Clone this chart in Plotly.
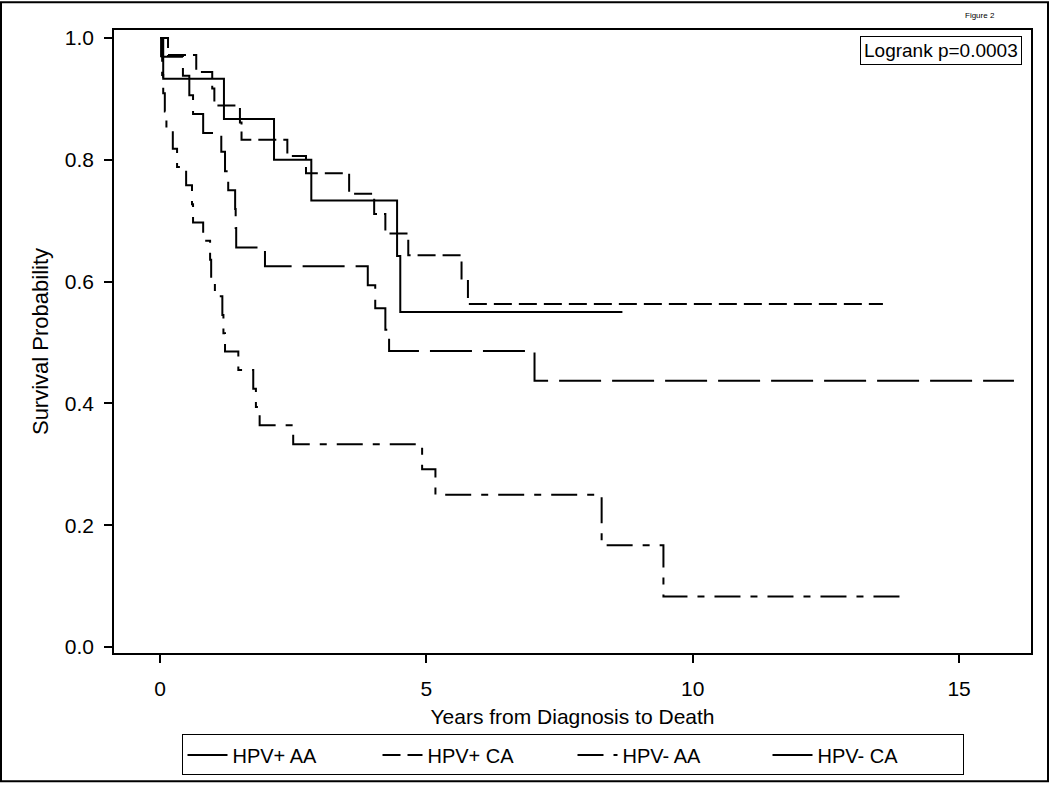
import plotly.graph_objects as go

# ---- data ----
hpvp_aa_t = [0, 0.06, 1.20, 2.14, 2.84, 4.45, 4.51, 8.68]
hpvp_aa_s = [1.0, 0.933, 0.867, 0.800, 0.733, 0.642, 0.550, 0.550]

hpvp_ca_t = [0, 0.15, 0.68, 0.98, 1.02, 1.50, 1.53, 2.39, 2.74, 3.55, 4.02, 4.23, 4.66, 5.66, 5.78, 13.57]
hpvp_ca_s = [1.0, 0.972, 0.944, 0.917, 0.889, 0.861, 0.833, 0.806, 0.778, 0.744, 0.711, 0.679, 0.643, 0.603, 0.563, 0.563]

hpvn_aa_t = [0, 0.02, 0.04, 0.06, 0.09, 0.12, 0.24, 0.32, 0.49, 0.60, 0.62, 0.81, 0.94, 0.96, 1.03,
             1.17, 1.19, 1.22, 1.47, 1.75, 1.80, 1.87, 2.50, 4.92, 5.17, 8.29, 9.45, 13.97]
hpvn_aa_s = [1.0, 0.970, 0.939, 0.909, 0.879, 0.848, 0.818, 0.788, 0.758, 0.727, 0.697, 0.667, 0.636, 0.606, 0.576,
             0.545, 0.515, 0.485, 0.455, 0.424, 0.394, 0.364, 0.333, 0.292, 0.250, 0.167, 0.083, 0.083]

hpvn_ca_t = [0, 0.05, 0.43, 0.55, 0.62, 0.81, 1.15, 1.22, 1.28, 1.41, 1.42, 1.43, 1.97, 3.90, 4.04, 4.23, 4.30, 7.03, 16.03]
hpvn_ca_s = [1.0, 0.969, 0.938, 0.906, 0.875, 0.844, 0.813, 0.781, 0.750, 0.719, 0.688, 0.656, 0.625, 0.594, 0.556, 0.521, 0.486, 0.437, 0.437]

group_names = ["HPV+ AA", "HPV+ CA", "HPV- AA", "HPV- CA"]
x_ticks = [0, 5, 10, 15]
y_ticks = [0.0, 0.2, 0.4, 0.6, 0.8, 1.0]
y_tick_labels = ["0.0", "0.2", "0.4", "0.6", "0.8", "1.0"]

FONT = "Liberation Sans, Arial, sans-serif"

series = [
    (hpvp_aa_t, hpvp_aa_s, "solid"),
    (hpvp_ca_t, hpvp_ca_s, "18px,7px"),
    (hpvn_aa_t, hpvn_aa_s, "26px,10px,7px,10px"),
    (hpvn_ca_t, hpvn_ca_s, "42px,11px"),
]

fig = go.Figure()
for name, (t, s, dash) in zip(group_names, series):
    fig.add_trace(go.Scatter(
        x=t, y=s, name=name, mode="lines",
        line=dict(color="black", width=2, dash=dash, shape="hv"),
    ))

W, H = 1050, 788
L, R, T, B = 114, 19, 30, 131
pw, ph = W - L - R, H - T - B

def px_x(p):
    return (p - L) / pw

def px_y(p):
    return (H - B - p) / ph

fig.update_layout(
    width=W, height=H,
    margin=dict(l=L, r=R, t=T, b=B),
    paper_bgcolor="white", plot_bgcolor="white",
    font=dict(family=FONT, color="black"),
    showlegend=True,
    legend=dict(
        orientation="h", x=0.5, xanchor="center", y=px_y(739), yanchor="top",
        bordercolor="black", borderwidth=1, font=dict(size=20, family=FONT),
        entrywidth=140, itemwidth=40, tracegroupgap=0,
    ),
    xaxis=dict(
        range=[-0.864, 16.35], tickvals=x_ticks, ticks="outside", ticklen=8, tickwidth=1.5,
        tickcolor="black", showline=True, linecolor="black", linewidth=1.5, mirror=True,
        showgrid=False, zeroline=False, tickfont=dict(size=21), ticklabelstandoff=8,
        title=dict(text="Years from Diagnosis to Death", font=dict(size=21), standoff=10),
        automargin=False,
    ),
    yaxis=dict(
        range=[-0.0098, 1.013], tickvals=y_ticks, ticktext=y_tick_labels, ticks="outside", ticklen=8,
        tickwidth=1.5, tickcolor="black", showline=True, linecolor="black", linewidth=1.5, mirror=True,
        showgrid=False, zeroline=False, tickfont=dict(size=21), ticklabelstandoff=6,
        title=dict(text="Survival Probability", font=dict(size=22), standoff=10),
        automargin=False,
    ),
    annotations=[
        dict(text="Logrank p=0.0003", xref="paper", yref="paper", x=px_x(1022), y=px_y(36),
             xanchor="right", yanchor="top", showarrow=False, font=dict(size=19),
             bordercolor="black", borderwidth=1, borderpad=3, bgcolor="white"),
        dict(text="Figure 2", xref="paper", yref="paper", x=px_x(980), y=px_y(15),
             xanchor="center", yanchor="middle", showarrow=False, font=dict(size=8)),
    ],
    shapes=[
        dict(type="rect", xref="paper", yref="paper", x0=px_x(1), x1=px_x(1048), y0=px_y(786), y1=px_y(2),
             line=dict(color="black", width=2), fillcolor="rgba(0,0,0,0)", layer="above"),
    ],
)

fig.write_html(
    "out.html",
    config={"displayModeBar": False},
    post_script="document.body.style.margin='0px';document.body.style.overflow='hidden';",
)
